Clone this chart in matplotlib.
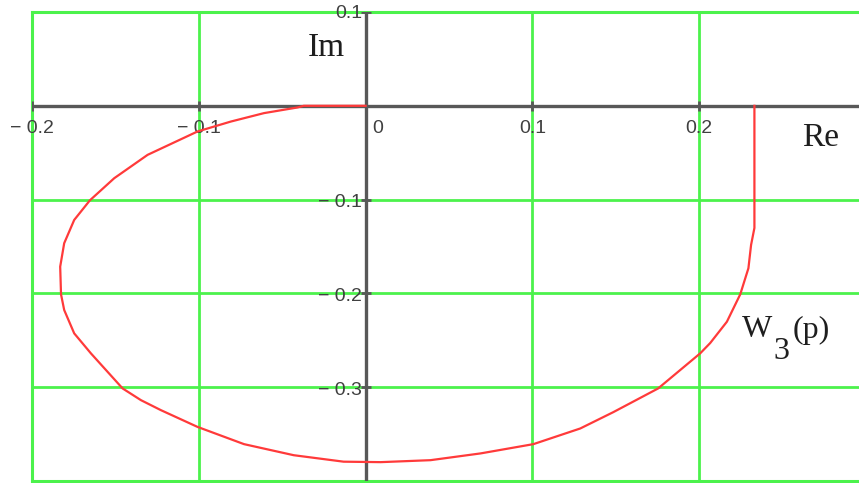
import numpy as np
import matplotlib
matplotlib.use('Agg')
import matplotlib.pyplot as plt

# hodograph W3(jw): real and imaginary parts
re_w = [0.2331, 0.2331, 0.2311, 0.2295, 0.2246, 0.2166, 0.2066, 0.2006,
        0.1754, 0.1485, 0.1287, 0.1006, 0.0689, 0.0389, 0.0090, -0.0132,
        -0.0431, -0.0729, -0.1008, -0.1228, -0.1347, -0.1457, -0.1647,
        -0.1747, -0.1807, -0.1826, -0.1831, -0.1807, -0.1747, -0.1653,
        -0.1507, -0.1307, -0.1008, -0.0808, -0.0609, -0.0409, -0.0371, 0.0]
im_w = [0.0, -0.1302, -0.1483, -0.1732, -0.2010, -0.2302, -0.2529, -0.2639,
        -0.3013, -0.3266, -0.3440, -0.3607, -0.3706, -0.3778, -0.3799,
        -0.3794, -0.3725, -0.3607, -0.3423, -0.3244, -0.3138, -0.3013,
        -0.2639, -0.2426, -0.2177, -0.2010, -0.1715, -0.1465, -0.1217,
        -0.1008, -0.0772, -0.0523, -0.0274, -0.0168, -0.0078, -0.0018,
        0.0, 0.0]

x_grid = [-0.2, -0.1, 0.0, 0.1, 0.2]
y_grid = [-0.4, -0.3, -0.2, -0.1, 0.0, 0.1]
x_ticks = [-0.2, -0.1, 0.1, 0.2]
x_tick_labels = ['\u2212 0.2', '\u2212 0.1', '0.1', '0.2']
y_ticks = [0.1, -0.1, -0.2, -0.3]
y_tick_labels = ['0.1', '\u2212 0.1', '\u2212 0.2', '\u2212 0.3']

green = '#4cf24c'
axis_col = '#585858'
label_col = '#404040'

fig = plt.figure(figsize=(8.59, 4.83), dpi=100)
ax = fig.add_axes([32 / 859, 2 / 483, 827 / 859, 469 / 483])
ax.set_xlim(-0.2, 0.2958)
ax.set_ylim(-0.4, 0.1)

ax.set_xticks(x_grid)
ax.set_yticks(y_grid)
ax.grid(True, color=green, lw=2.0)
ax.tick_params(length=0, labelbottom=False, labelleft=False)
for side in ['left', 'top', 'bottom']:
    ax.spines[side].set_color(green)
    ax.spines[side].set_linewidth(2.2)
ax.spines['right'].set_visible(False)

# axes through the origin
ax.axhline(0, color=axis_col, lw=2.4, zorder=3)
ax.axvline(0, color=axis_col, lw=2.4, zorder=3)
ax.plot(x_ticks, [0] * len(x_ticks), ls='none', marker='|', ms=7,
        mew=2, color=axis_col, zorder=3)
ax.plot([0] * len(y_ticks), y_ticks, ls='none', marker='_', ms=7,
        mew=2, color=axis_col, zorder=3)

# tick labels
tick_font = dict(family='Liberation Sans', size=14, color=label_col)
for xv, lab in zip(x_ticks, x_tick_labels):
    ax.text(xv, -0.0245, lab, ha='center', va='center', **tick_font)
ax.text(0.0075, -0.0245, '0', ha='center', va='center', **tick_font)
for yv, lab in zip(y_ticks, y_tick_labels):
    yy = yv - 0.002 if yv > 0 else yv - 0.003
    ax.text(-0.0020, yy, lab, ha='right', va='center', **tick_font)

ax.plot(re_w, im_w, color='#ff3a3a', lw=1.6, zorder=4)

serif = dict(family='Liberation Serif', color='#1e1e1e')
ax.text(-0.0234, 0.062, 'Im', ha='center', va='center', size=24, **serif)
ax.text(0.2725, -0.034, 'Re', ha='center', va='center', size=24, **serif)
# W3(p) with a large, low subscript
ax.text(0.2257, -0.238, 'W', ha='left', va='center', size=23, **serif)
ax.text(0.2446, -0.262, '3', ha='left', va='center', size=23, **serif)
ax.text(0.2560, -0.240, '(p)', ha='left', va='center', size=23, **serif)

fig.savefig('out.png', dpi=100)
plt.close()
